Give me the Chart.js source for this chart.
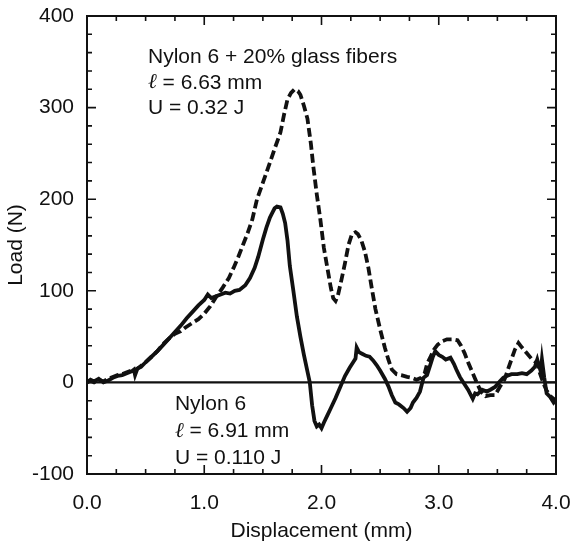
<!DOCTYPE html>
<html>
<head>
<meta charset="utf-8">
<script src="https://cdn.jsdelivr.net/npm/chart.js@4/dist/chart.umd.min.js"></script>
<style>
  html, body { margin: 0; padding: 0; background: #fff; }
  #wrap { width: 570px; height: 544px; }
</style>
</head>
<body>
<div id="wrap"><canvas id="c" width="570" height="544"></canvas></div>
<script>
// Nylon 6 (solid curve): displacement (mm) and load (N)
const nylonDisp = [0.00,0.03,0.06,0.10,0.14,0.18,0.22,0.26,0.30,0.34,0.38,0.40,0.41,0.43,0.46,0.50,0.55,0.60,0.65,0.70,0.75,0.80,0.85,0.90,0.95,1.00,1.03,1.06,1.10,1.14,1.18,1.22,1.26,1.30,1.35,1.39,1.43,1.46,1.50,1.53,1.56,1.58,1.60,1.62,1.65,1.67,1.69,1.71,1.73,1.76,1.79,1.82,1.85,1.88,1.90,1.92,1.94,1.96,1.98,2.00,2.02,2.05,2.08,2.12,2.16,2.20,2.24,2.27,2.29,2.30,2.32,2.35,2.38,2.41,2.44,2.47,2.50,2.54,2.57,2.60,2.63,2.66,2.70,2.73,2.76,2.78,2.81,2.84,2.87,2.90,2.93,2.95,2.97,3.00,3.03,3.06,3.10,3.13,3.15,3.18,3.21,3.25,3.29,3.31,3.33,3.37,3.41,3.44,3.48,3.52,3.55,3.58,3.62,3.67,3.71,3.75,3.79,3.82,3.84,3.85,3.87,3.88,3.90,3.92,3.95,3.98,4.00];
const nylonLoad = [0,3,1,4,0,2,5,7,8,10,12,14,8,15,17,22,28,34,41,48,55,62,70,77,84,90,96,92,94,96,98,97,100,101,106,114,125,137,156,169,180,185,190,192,191,184,174,155,127,100,72,50,30,12,0,-25,-42,-48,-46,-50,-44,-36,-28,-17,-5,7,16,22,26,38,33,31,29,28,24,19,13,4,-4,-14,-22,-24,-28,-32,-28,-22,-17,-10,5,8,20,28,34,30,28,25,27,20,14,6,0,-8,-18,-12,-13,-8,-10,-8,-5,1,5,7,9,9,10,9,13,17,25,20,12,25,5,-12,-16,-22,-19];

// Nylon 6 + 20% glass fibers (dashed curve)
const glassDisp = [0.00,0.03,0.06,0.10,0.14,0.18,0.22,0.26,0.30,0.34,0.38,0.42,0.46,0.50,0.55,0.60,0.65,0.70,0.75,0.80,0.84,0.90,0.95,1.00,1.05,1.10,1.16,1.21,1.25,1.29,1.33,1.37,1.41,1.45,1.50,1.56,1.60,1.65,1.68,1.71,1.74,1.77,1.80,1.82,1.85,1.88,1.91,1.93,1.96,1.99,2.02,2.05,2.08,2.10,2.12,2.14,2.17,2.20,2.23,2.26,2.29,2.31,2.34,2.37,2.40,2.43,2.46,2.50,2.54,2.57,2.60,2.64,2.68,2.73,2.77,2.81,2.85,2.88,2.90,2.93,2.96,2.99,3.03,3.07,3.12,3.16,3.19,3.22,3.25,3.28,3.31,3.33,3.36,3.40,3.44,3.48,3.52,3.56,3.59,3.62,3.65,3.68,3.71,3.75,3.79,3.84,3.86,3.89,3.92,3.96,4.00];
const glassLoad = [0,2,0,3,1,4,6,8,9,11,13,14,18,22,28,34,42,48,53,56,60,65,69,75,83,93,104,114,125,137,150,163,178,200,218,240,255,273,292,309,316,320,318,314,302,288,260,236,205,178,147,125,103,92,89,95,112,130,150,162,164,162,155,143,125,102,80,58,38,25,14,9,8,6,5,3,5,10,20,28,36,41,45,47,47,46,40,32,22,13,4,-2,-10,-15,-14,-14,-5,3,14,25,36,43,38,32,26,21,11,0,-9,-16,-20];

// Axis ranges and tick steps
const xRange = [0, 4];
const yRange = [-100, 400];
const xMajorStep = 1, xMinorStep = 0.25;
const yMajorStep = 100, yMinorStep = 20;

const series = (xs, ys) => xs.map((x, i) => ({ x: x, y: ys[i] }));

const FONT = '"Liberation Sans", Arial, Helvetica, sans-serif';
const INK = '#111';
const SIZE = 21;

// Frame, inward ticks on all four sides, zero line and text notes
const framePlugin = {
  id: 'frame',
  afterDatasetsDraw(chart) {
    const { ctx, chartArea: a, scales: { x, y } } = chart;
    ctx.save();
    ctx.strokeStyle = INK;
    ctx.lineCap = 'butt';

    // zero line
    ctx.lineWidth = 2.2;
    const y0 = y.getPixelForValue(0);
    ctx.beginPath();
    ctx.moveTo(a.left, y0);
    ctx.lineTo(a.right, y0);
    ctx.stroke();

    // ticks
    ctx.lineWidth = 1.6;
    ctx.beginPath();
    const nx = Math.round((xRange[1] - xRange[0]) / xMinorStep);
    for (let i = 1; i < nx; i++) {
      const v = xRange[0] + i * xMinorStep;
      const major = Math.abs(v / xMajorStep - Math.round(v / xMajorStep)) < 1e-6;
      const len = major ? 9 : 5;
      const px = x.getPixelForValue(v);
      ctx.moveTo(px, a.bottom); ctx.lineTo(px, a.bottom - len);
      ctx.moveTo(px, a.top); ctx.lineTo(px, a.top + len);
    }
    const ny = Math.round((yRange[1] - yRange[0]) / yMinorStep);
    for (let i = 1; i < ny; i++) {
      const v = yRange[0] + i * yMinorStep;
      const major = Math.abs(v / yMajorStep - Math.round(v / yMajorStep)) < 1e-6;
      const len = major ? 9 : 5;
      const py = y.getPixelForValue(v);
      ctx.moveTo(a.left, py); ctx.lineTo(a.left + len, py);
      ctx.moveTo(a.right, py); ctx.lineTo(a.right - len, py);
    }
    ctx.stroke();

    // frame
    ctx.lineWidth = 2;
    ctx.strokeRect(a.left, a.top, a.right - a.left, a.bottom - a.top);

    // notes; the length symbol is set in an italic face
    ctx.fillStyle = INK;
    ctx.textAlign = 'left';
    ctx.textBaseline = 'middle';
    const plain = SIZE + 'px ' + FONT;
    const script = 'italic ' + SIZE + 'px "DejaVu Serif", serif';
    const drawLine = (t, px, py) => {
      if (t.startsWith('\u2113')) {
        ctx.font = script;
        ctx.fillText('\u2113', px, py);
        const w = ctx.measureText('\u2113').width;
        ctx.font = plain;
        ctx.fillText(t.slice(1), px + w, py);
      } else {
        ctx.font = plain;
        ctx.fillText(t, px, py);
      }
    };
    const note = (lines, xv, yv, step) => {
      const px = x.getPixelForValue(xv);
      let py = y.getPixelForValue(yv);
      lines.forEach(t => { drawLine(t, px, py); py += step; });
    };
    note(['Nylon 6 + 20% glass fibers', '\u2113 = 6.63 mm', 'U = 0.32 J'], 0.52, 355, 25.5);
    note(['Nylon 6', '\u2113 = 6.91 mm', 'U = 0.110 J'], 0.75, -24, 27);
    ctx.restore();
  }
};

new Chart(document.getElementById('c'), {
  type: 'line',
  data: {
    datasets: [
      {
        label: 'Nylon 6 + 20% glass fibers',
        data: series(glassDisp, glassLoad),
        borderColor: INK,
        borderWidth: 3.8,
        borderDash: [9, 4],
        pointRadius: 0,
        tension: 0,
        fill: false
      },
      {
        label: 'Nylon 6',
        data: series(nylonDisp, nylonLoad),
        borderColor: INK,
        borderWidth: 3.8,
        pointRadius: 0,
        tension: 0,
        fill: false
      }
    ]
  },
  options: {
    responsive: false,
    animation: false,
    events: [],
    layout: { padding: { left: 0, right: 14, top: 16, bottom: 0 } },
    plugins: { legend: { display: false }, tooltip: { enabled: false } },
    scales: {
      x: {
        type: 'linear',
        min: xRange[0], max: xRange[1],
        grid: { display: false, drawTicks: false },
        border: { display: false },
        ticks: {
          stepSize: xMajorStep,
          padding: 17,
          color: INK,
          font: { family: FONT, size: SIZE },
          callback: v => Number(v).toFixed(1)
        },
        title: {
          display: true,
          text: 'Displacement (mm)',
          color: INK,
          font: { family: FONT, size: SIZE },
          padding: { top: 0, bottom: 0 }
        },
        afterFit: s => { s.height = 70; s.paddingLeft = 0; s.paddingRight = 0; }
      },
      y: {
        type: 'linear',
        min: yRange[0], max: yRange[1],
        grid: { display: false, drawTicks: false },
        border: { display: false },
        ticks: {
          stepSize: yMajorStep,
          padding: 13,
          color: INK,
          font: { family: FONT, size: SIZE }
        },
        title: {
          display: true,
          text: 'Load (N)',
          color: INK,
          font: { family: FONT, size: SIZE },
          padding: { top: 4, bottom: 0 }
        },
        afterFit: s => { s.width = 87; s.paddingTop = 0; s.paddingBottom = 0; }
      }
    }
  },
  plugins: [framePlugin]
});
</script>
</body>
</html>
